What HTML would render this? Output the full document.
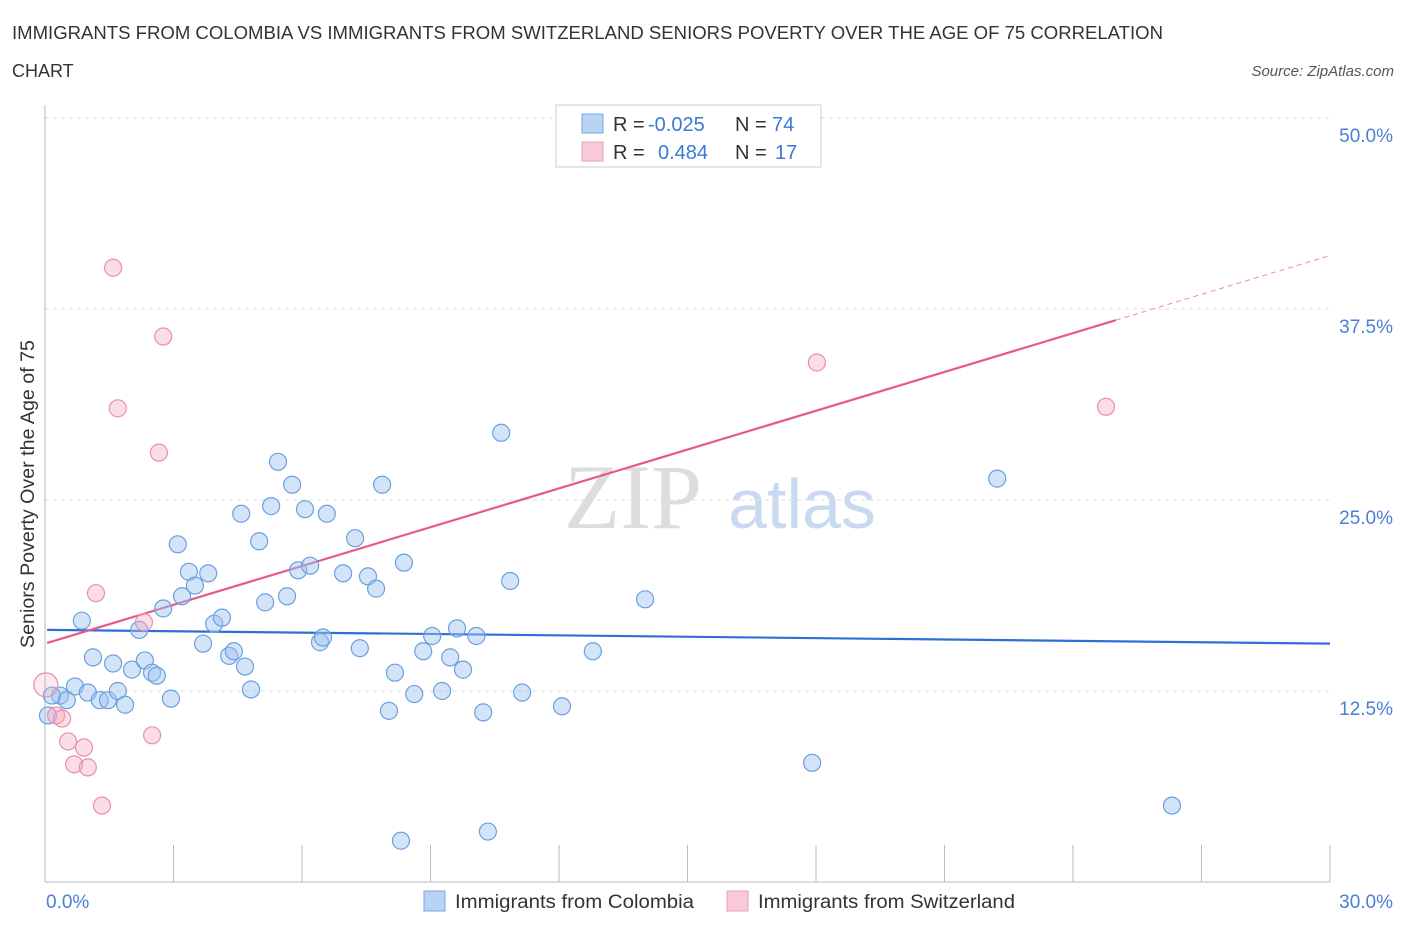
<!DOCTYPE html>
<html><head><meta charset="utf-8"><style>
body{margin:0;background:#fff;font-family:"Liberation Sans",sans-serif;}
svg{display:block}
</style></head><body>
<svg id="c" width="1406" height="930" xmlns="http://www.w3.org/2000/svg">
<text x="12" y="39" font-size="18" fill="#333" textLength="1151" lengthAdjust="spacingAndGlyphs">IMMIGRANTS FROM COLOMBIA VS IMMIGRANTS FROM SWITZERLAND SENIORS POVERTY OVER THE AGE OF 75 CORRELATION</text>
<text x="12" y="77" font-size="18" fill="#333">CHART</text>
<text x="1394" y="76" font-size="15" fill="#555" font-style="italic" text-anchor="end">Source: ZipAtlas.com</text>
<text x="633" y="528" font-size="92" fill="#ddd" font-family="Liberation Serif,serif" text-anchor="middle">ZIP</text>
<text x="802" y="528" font-size="70" fill="#c9daf0" text-anchor="middle">atlas</text>
<g id="grid"></g><g id="lines"></g><g id="pts"></g>
<text transform="translate(34,494) rotate(-90)" font-size="19" fill="#333" text-anchor="middle" textLength="308" lengthAdjust="spacingAndGlyphs">Seniors Poverty Over the Age of 75</text>
<text x="46" y="908" font-size="19" fill="#4a7fd4">0.0%</text>
<text x="1393" y="908" font-size="19" fill="#4a7fd4" text-anchor="end">30.0%</text>
<g>
<rect x="556" y="105" width="265" height="62" fill="#fff" stroke="#ccc"/>
<rect x="582" y="114" width="21" height="19" fill="#b9d3f5" stroke="#7aa6e3"/>
<rect x="582" y="142" width="21" height="19" fill="#f9c9d8" stroke="#eba0b8"/>
<text x="613" y="131" font-size="20" fill="#333">R = <tspan fill="#3a78d8" x="648">-0.025</tspan></text>
<text x="735" y="131" font-size="20" fill="#333">N = <tspan fill="#3a78d8" x="772">74</tspan></text>
<text x="613" y="159" font-size="20" fill="#333">R = <tspan fill="#3a78d8" x="658">0.484</tspan></text>
<text x="735" y="159" font-size="20" fill="#333">N = <tspan fill="#3a78d8" x="775">17</tspan></text>
</g>
<g>
<rect x="424" y="891" width="21" height="20" fill="#b9d3f5" stroke="#7aa6e3"/>
<text x="455" y="908" font-size="19" fill="#333" textLength="239" lengthAdjust="spacingAndGlyphs">Immigrants from Colombia</text>
<rect x="727" y="891" width="21" height="20" fill="#f9c9d8" stroke="#eba0b8"/>
<text x="758" y="908" font-size="19" fill="#333" textLength="257" lengthAdjust="spacingAndGlyphs">Immigrants from Switzerland</text>
</g>
</svg>
<script>
const blueX=[0.86,1.12,1.59,0.70,1.00,0.35,0.51,1.28,1.47,1.70,1.87,0.16,0.07,2.20,2.03,2.33,2.50,2.61,2.94,2.76,3.10,3.20,3.36,3.50,3.81,3.69,3.95,4.13,4.30,4.41,4.58,4.67,4.81,5.00,5.14,5.28,5.44,5.65,5.77,5.91,6.07,6.19,6.42,6.49,6.58,6.96,7.24,7.35,7.54,7.73,7.87,8.03,8.17,8.31,8.38,8.62,8.83,9.04,9.27,9.46,9.62,9.76,10.07,10.23,10.34,10.65,10.86,11.14,12.07,12.79,14.01,17.91,22.23,26.31];
const blueY=[17.1,14.7,14.3,12.8,12.4,12.2,11.9,11.9,11.9,12.5,11.6,12.2,10.9,16.5,13.9,14.5,13.7,13.5,12.0,17.9,22.1,18.7,20.3,19.4,20.2,15.6,16.9,17.3,14.8,15.1,24.1,14.1,12.6,22.3,18.3,24.6,27.5,18.7,26.0,20.4,24.4,20.7,15.7,16.0,24.1,20.2,22.5,15.3,20.0,19.2,26.0,11.2,13.7,2.7,20.9,12.3,15.1,16.1,12.5,14.7,16.6,13.9,16.1,11.1,3.3,29.4,19.7,12.4,11.5,15.1,18.5,7.8,26.4,5.0];
const pinkX=[0.02,0.26,0.40,0.54,0.68,0.91,1.00,1.19,1.33,1.59,1.70,2.31,2.50,2.66,2.76,18.02,24.77];
const pinkY=[12.9,10.9,10.7,9.2,7.7,8.8,7.5,18.9,5.0,40.2,31.0,17.0,9.6,28.1,35.7,34.0,31.1];
const blueTrend=[16.5,15.6];
const pinkTrend=[15.6,41.0];
const yTicks=[12.5,25,37.5,50];
const yTickLabels=["12.5%","25.0%","37.5%","50.0%"];
const xTicks=[0,3,6,9,12,15,18,21,24,27,30];
const NS='http://www.w3.org/2000/svg';
const X=v=>45+v/30*1285, Y=v=>882-v/50*764;
function mk(t,a,p){const e=document.createElementNS(NS,t);for(const k in a)e.setAttribute(k,a[k]);p.appendChild(e);return e;}
const g=document.getElementById('grid');
yTicks.forEach((t,i)=>{
 const l=mk('line',{x1:45,x2:1330,y1:Y(t),y2:Y(t),stroke:'#ddd','stroke-dasharray':'4,4'},g);
 
 
 const tx=mk('text',{x:1393,y:Y(t)+24,'font-size':19,fill:'#4a7fd4','text-anchor':'end'},g);
 tx.textContent=yTickLabels[i];
 
 
});
const ax=mk('line',{x1:45,x2:45,y1:105,y2:882,stroke:'#bbb'},g);


const bx=mk('line',{x1:45,x2:1330,y1:882,y2:882,stroke:'#bbb'},g);


xTicks.forEach(t=>{const l=mk('line',{x1:X(t),x2:X(t),y1:845,y2:882,stroke:'#bbb'},g);
 
 });
const pg=document.getElementById('pts');
blueX.forEach((x,i)=>{const c=mk('circle',{cx:X(x),cy:Y(blueY[i]),r:8.5,fill:'rgba(160,196,240,0.45)',stroke:'#6a9fe0','stroke-width':1.2},pg);
 
 });
pinkX.forEach((x,i)=>{const c=mk('circle',{cx:X(x),cy:Y(pinkY[i]),r:i==0?12:8.5,fill:i==0?'rgba(245,170,195,0.25)':'rgba(245,170,195,0.4)',stroke:'#e890ab','stroke-width':1.2},pg);
 
 });
const lg=document.getElementById('lines');
const tb=mk('line',{x1:X(0.05),y1:Y(blueTrend[0]),x2:X(30),y2:Y(blueTrend[1]),stroke:'#2e6fd6','stroke-width':2.2},lg);


const pAt=x=>pinkTrend[0]+(pinkTrend[1]-pinkTrend[0])*x/30;
const tp=mk('line',{x1:X(0.05),y1:Y(pAt(0.05)),x2:X(25),y2:Y(pAt(25)),stroke:'#e55a8a','stroke-width':2.2},lg);


const td=mk('line',{x1:X(25),y1:Y(pAt(25)),x2:X(30),y2:Y(pAt(30)),stroke:'#e88aaa','stroke-width':1,'stroke-dasharray':'5,4'},lg);


</script>
</body></html>
